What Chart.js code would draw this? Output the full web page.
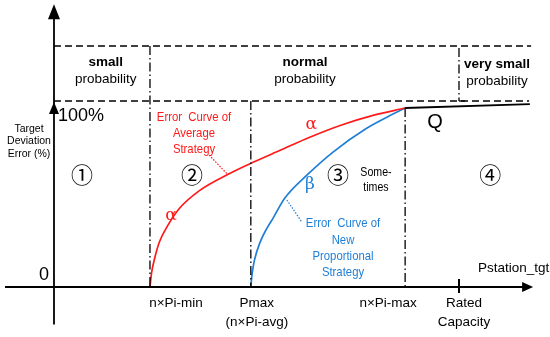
<!DOCTYPE html>
<html lang="en">
<head>
<meta charset="UTF-8">
<title>Target Deviation Error</title>
<script src="https://cdn.jsdelivr.net/npm/chart.js"></script>
<style>
  body { margin: 0; background: #fff; }
  #wrap { width: 550px; height: 337px; }
</style>
</head>
<body>
<div id="wrap"><canvas id="myChart"></canvas></div>
<script>
// x: station power in % of rated capacity, y: target deviation error in %
var tickPos = [23.7, 48.6, 86.7, 100];
var tickLabels = [['n×Pi-min'], ['Pmax', '(n×Pi-avg)'], ['n×Pi-max'], ['Rated', 'Capacity']];

// error curve of average strategy (alpha)
var alphaX = [23.7, 24.1, 24.8, 26, 28, 31, 36, 43, 49, 56, 63, 71, 79, 86.7];
var alphaY = [0, 8, 15.5, 25, 34, 44, 54, 63, 69.5, 76.5, 83.5, 90.5, 96, 100];

// error curve of new proportional strategy (beta)
var betaX = [48.6, 48.9, 49.5, 50.9, 52.5, 54.1, 57, 62.5, 68.9, 77.3, 83.7, 86.7];
var betaY = [0, 7, 15, 25.1, 32.5, 38.5, 49.7, 62.6, 75.4, 88.8, 96.6, 100];

// Q segment beyond n×Pi-max
var qX = [86.7, 117.5];
var qY = [100, 102.2];

// probability bands
var bandLevels = [134.6, 103.9];
var bandNames = [['small', 'probability'], ['normal', 'probability'], ['very small', 'probability']];
var bandCenters = [12.8, 62, 109.4];

// numbered regions
var regionNames = ['①', '②', '③', '④'];
var regionCenters = [6.9, 34.1, 70.1, 107.7];

var XMIN = -13.33, XMAX = 122.47, YMIN = -27.93, YMAX = 160.34;

function toPts(xs, ys) {
    var out = [];
    for (var i = 0; i < xs.length; i++) out.push({ x: xs[i], y: ys[i] });
    return out;
}

var RED = '#ff1a1a';
var BLUE = '#1f7fd6';

var sketch = {
    id: 'sketch',
    afterDatasetsDraw: function (chart) {
        var ctx = chart.ctx;
        var sx = chart.scales.x, sy = chart.scales.y;
        function px(v) { return sx.getPixelForValue(v); }
        function py(v) { return sy.getPixelForValue(v); }

        function line(x1, y1, x2, y2, dash, w, col) {
            ctx.save();
            ctx.beginPath();
            ctx.setLineDash(dash || []);
            ctx.lineWidth = w || 1.5;
            ctx.strokeStyle = col || '#000';
            ctx.moveTo(x1, y1);
            ctx.lineTo(x2, y2);
            ctx.stroke();
            ctx.restore();
        }
        // squeeze < 1 narrows the text sideways
        function text(t, x, y, font, col, align, squeeze) {
            ctx.save();
            ctx.translate(x, y);
            if (squeeze) ctx.scale(squeeze, 1);
            ctx.font = font;
            ctx.fillStyle = col || '#000';
            ctx.textAlign = align || 'center';
            ctx.textBaseline = 'middle';
            ctx.fillText(t, 0, 0);
            ctx.restore();
        }
        function tri(x1, y1, x2, y2, x3, y3) {
            ctx.beginPath();
            ctx.moveTo(x1, y1); ctx.lineTo(x2, y2); ctx.lineTo(x3, y3);
            ctx.closePath();
            ctx.fillStyle = '#000';
            ctx.fill();
        }

        var x0 = px(0), y0 = py(0);
        var dashed = [7, 4];
        var dashDot = [9, 3, 1.5, 3];

        // band borders
        line(x0, py(bandLevels[0]), px(117.8), py(bandLevels[0]), dashed, 1.5);
        line(x0, py(bandLevels[1]), px(117.3), py(bandLevels[1]), dashed, 1.5);
        line(px(tickPos[3]), py(bandLevels[0]) + 2, px(tickPos[3]), py(bandLevels[1]), dashDot, 1.3);
        line(px(tickPos[3]), py(bandLevels[1]), px(tickPos[3]) + 6, py(bandLevels[1]), [], 1.3);

        // vertical guides
        line(px(tickPos[0]), py(bandLevels[0]), px(tickPos[0]), y0, dashDot, 1.3);
        line(px(tickPos[1]), py(bandLevels[1]), px(tickPos[1]), y0, dashDot, 1.3);
        line(px(tickPos[2]), py(100), px(tickPos[2]), y0, dashDot, 1.3);

        // axes
        line(x0, py(-21), x0, py(157.5) + 10, [], 1.8);
        tri(x0, py(158), x0 - 6, py(158) + 15, x0 + 6, py(158) + 15);
        tri(x0, py(bandLevels[1]) + 1, x0 - 5, py(bandLevels[1]) + 13, x0 + 5, py(bandLevels[1]) + 13);
        line(px(-12.1), y0, px(118.3) - 8, y0, [], 1.8);
        tri(px(118.3), y0, px(118.3) - 11, y0 - 5, px(118.3) - 11, y0 + 5);
        line(px(tickPos[3]), y0 - 8, px(tickPos[3]), y0 + 6, [], 2);

        // leaders
        line(px(38.3), py(73.7), px(43), py(62.6), [1.5, 1.5], 1.2, RED);
        line(px(57.5), py(48.6), px(61.2), py(36.3), [1.5, 1.5], 1.2, BLUE);

        var F = '"Liberation Sans", Arial, sans-serif';

        // band labels
        for (var i = 0; i < bandNames.length; i++) {
            var cx = px(bandCenters[i]);
            var top = i === 2 ? 64 : 62;
            text(bandNames[i][0], cx, top, 'bold 13.5px ' + F);
            text(bandNames[i][1], cx, top + 17, '13.5px ' + F);
        }

        // region numbers
        for (var j = 0; j < regionNames.length; j++) {
            text(regionNames[j], px(regionCenters[j]), py(62.6), '22px "Noto Sans CJK SC", "DejaVu Sans", sans-serif');
        }
        text('Some-', px(79.5), 173, '12.5px ' + F, '#000', 'center', 0.85);
        text('times', px(79.5), 188, '12.5px ' + F, '#000', 'center', 0.85);

        // y axis text
        text('100%', x0 + 4, py(bandLevels[1]) + 15, '18px ' + F, '#000', 'left');
        text('0', x0 - 5, y0 - 12, '18px ' + F, '#000', 'right');
        text('Target', 29, 129, '10.5px ' + F);
        text('Deviation', 29, 141, '10.5px ' + F);
        text('Error (%)', 29, 154, '10.5px ' + F);

        // x axis text
        var tickShift = [26, 6, -17, 5];
        for (var k = 0; k < tickLabels.length; k++) {
            for (var m = 0; m < tickLabels[k].length; m++) {
                text(tickLabels[k][m], px(tickPos[k]) + tickShift[k], y0 + 16 + m * 19, '13.5px ' + F);
            }
        }
        text('Pstation_tgt', px(113.5), y0 - 19, '13.5px ' + F);

        // curve annotations
        var cf = '13.5px ' + F;
        var sq = 0.84;
        text('Error  Curve of', 194, 117, cf, RED, 'center', sq);
        text('Average', 194, 133, cf, RED, 'center', sq);
        text('Strategy', 194, 149, cf, RED, 'center', sq);
        text('Error  Curve of', 343, 223, cf, BLUE, 'center', sq);
        text('New', 343, 240, cf, BLUE, 'center', sq);
        text('Proportional', 343, 256, cf, BLUE, 'center', sq);
        text('Strategy', 343, 272, cf, BLUE, 'center', sq);
        text('α', px(63.5), py(90.5), '17px "DejaVu Serif", serif', RED);
        text('α', px(28.9), py(40), '17px "DejaVu Serif", serif', RED);
        text('β', px(63.2), py(57), '17px "DejaVu Serif", serif', BLUE);
        text('Q', px(94.1), py(92), '20px ' + F);
    }
};

var ctx = document.getElementById('myChart').getContext('2d');
new Chart(ctx, {
    type: 'line',
    data: {
        datasets: [
            { label: 'alpha', data: toPts(alphaX, alphaY), borderColor: RED, borderWidth: 1.7,
              cubicInterpolationMode: 'monotone', pointRadius: 0, fill: false },
            { label: 'beta', data: toPts(betaX, betaY), borderColor: BLUE, borderWidth: 1.7,
              cubicInterpolationMode: 'monotone', pointRadius: 0, fill: false },
            { label: 'Q', data: toPts(qX, qY), borderColor: '#000', borderWidth: 1.8,
              pointRadius: 0, fill: false }
        ]
    },
    options: {
        responsive: true,
        maintainAspectRatio: false,
        animation: false,
        layout: { padding: 0 },
        plugins: { legend: { display: false }, tooltip: { enabled: false } },
        scales: {
            x: { type: 'linear', min: XMIN, max: XMAX, display: false },
            y: { type: 'linear', min: YMIN, max: YMAX, display: false }
        }
    },
    plugins: [sketch]
});
</script>
</body>
</html>
